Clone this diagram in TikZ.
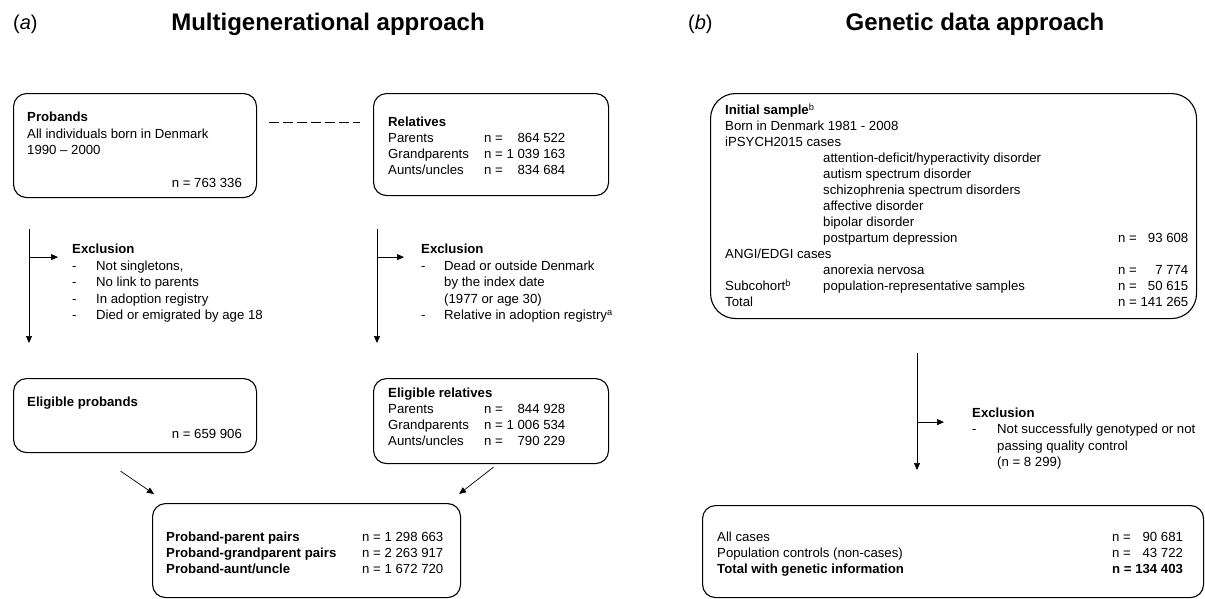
\documentclass[tikz,border=0pt]{standalone}
\usepackage{fontspec}
\setmainfont{Liberation Sans}
\usetikzlibrary{positioning,calc,arrows.meta}

\begin{document}
\begin{tikzpicture}[x=1pt, y=1pt,
    box/.style={draw, line width=1.1pt, rounded corners=13pt, anchor=north west, inner sep=0pt},
    txt/.style={anchor=north west, inner sep=0pt, font=\fontsize{13.2}{16}\selectfont},
    txtl/.style={anchor=north west, inner sep=0pt, font=\fontsize{13.2}{16.5}\selectfont},
    one/.style={inner sep=0pt, font=\fontsize{13.2}{16}\selectfont},
    arr/.style={line width=0.7pt, -{Triangle[length=7pt, width=6pt]}},
    lin/.style={line width=0.9pt}]

    \useasboundingbox (0,0) rectangle (1205,-598);

    % Titles
    \node[anchor=west, inner sep=0pt, font=\fontsize{20}{24}\selectfont] (labA) at (13,-24) {(\textit{a})};
    \node[font=\fontsize{24}{28}\selectfont\bfseries] (titleA) at (328,-24) {Multigenerational approach};
    \node[anchor=west, inner sep=0pt, font=\fontsize{20}{24}\selectfont] (labB) at (688,-24) {(\textit{b})};
    \node[font=\fontsize{24}{28}\selectfont\bfseries] (titleB) at (975,-24) {Genetic data approach};

    % (a) boxes
    \node[box, minimum width=243pt, minimum height=104pt] (probands) at (13,-93) {};
    \node[box, minimum width=235pt, minimum height=102pt] (relatives) at (373,-93) {};
    \node[box, minimum width=243pt, minimum height=74pt] (eligprob) at (13,-378) {};
    \node[box, minimum width=235pt, minimum height=85pt] (eligrel) at (373,-378) {};
    \node[box, minimum width=308pt, minimum height=94pt] (pairs) at (152,-503) {};

    % (a) texts
    \node[txtl] (probandsT) at ($(probands.north west)+(14,-16.85)$)
        {\begin{tabular}{@{}l@{}}\textbf{Probands}\\All individuals born in Denmark\\1990 – 2000\end{tabular}};
    \node[one, anchor=base east] (probandsN) at ($(probands.south east)+(-15,10.6)$) {n = 763 336};
    \node[txt] (relativesT) at ($(relatives.north west)+(15,-22.2)$)
        {\begin{tabular}{@{}p{96pt}@{}l@{ }r@{}}
        \multicolumn{3}{@{}l}{\textbf{Relatives}}\\
        Parents & n = & 864 522\\
        Grandparents & n = & 1 039 163\\
        Aunts/uncles & n = & 834 684
        \end{tabular}};
    \node[txtl] (exclA) at (72,-241.85)
        {\begin{tabular}{@{}p{24pt}@{}l@{}}
        \multicolumn{2}{@{}l}{\textbf{Exclusion}}\\
        - & Not singletons,\\
        - & No link to parents\\
        - & In adoption registry\\
        - & Died or emigrated by age 18
        \end{tabular}};
    \node[txtl] (exclB) at (421,-241.85)
        {\begin{tabular}{@{}p{23pt}@{}l@{}}
        \multicolumn{2}{@{}l}{\textbf{Exclusion}}\\
        - & Dead or outside Denmark\\
          & by the index date\\
          & (1977 or age 30)\\
        - & Relative in adoption registry\textsuperscript{a}
        \end{tabular}};
    \node[one, anchor=base west] (eligprobT) at ($(eligprob.north west)+(14,-28.4)$) {\textbf{Eligible probands}};
    \node[one, anchor=base east] (eligprobN) at ($(eligprob.south east)+(-15,14.6)$) {n = 659 906};
    \node[txt] (eligrelT) at ($(eligrel.north west)+(15,-8.2)$)
        {\begin{tabular}{@{}p{96pt}@{}l@{ }r@{}}
        \multicolumn{3}{@{}l}{\textbf{Eligible relatives}}\\
        Parents & n = & 844 928\\
        Grandparents & n = & 1 006 534\\
        Aunts/uncles & n = & 790 229
        \end{tabular}};
    \node[txt] (pairsT) at ($(pairs.north west)+(14,-27.2)$)
        {\begin{tabular}{@{}p{196pt}@{}l@{ }r@{}}
        \textbf{Proband-parent pairs} & n = & 1 298 663\\
        \textbf{Proband-grandparent pairs} & n = & 2 263 917\\
        \textbf{Proband-aunt/uncle} & n = & 1 672 720
        \end{tabular}};

    % (a) connectors
    \coordinate (dashS) at ($(probands.north east)+(12,-29)$);
    \coordinate (dashE) at ($(relatives.north west)+(-13,-29)$);
    \draw[lin, dash pattern=on 10pt off 4pt] (dashS) -- (dashE);

    \coordinate (vAs) at ($(probands.south west)+(16,-31)$);
    \coordinate (vAe) at ($(eligprob.north west)+(16,35)$);
    \coordinate (brA) at ($(vAs)+(0,-28)$);
    \draw[arr] (vAs) -- (vAe);
    \draw[arr] (brA) -- ++(29,0);

    \coordinate (vBs) at ($(relatives.south west)+(4,-33)$);
    \coordinate (vBe) at ($(eligrel.north west)+(4,35)$);
    \coordinate (brB) at ($(vBs)+(0,-28)$);
    \draw[arr] (vBs) -- (vBe);
    \draw[arr] (brB) -- ++(27,0);

    \coordinate (dA1) at ($(eligprob.south)+(-14.5,-18)$);
    \coordinate (dA2) at ($(pairs.north west)+(2,9)$);
    \draw[arr] (dA1) -- (dA2);
    \coordinate (dB1) at ($(eligrel.south)+(2.5,-3)$);
    \coordinate (dB2) at ($(pairs.north east)+(-2,9)$);
    \draw[arr] (dB1) -- (dB2);

    % (b) boxes
    \node[box, rounded corners=25pt, minimum width=486pt, minimum height=225pt] (initial) at (710,-93) {};
    \node[box, minimum width=501pt, minimum height=92pt] (final) at (702,-505) {};

    % (b) texts
    \node[txt] (initialT) at ($(initial.north west)+(15,-10.2)$)
        {\begin{tabular}{@{}p{98pt}@{}p{295pt}@{}l@{ }r@{}}
        \multicolumn{4}{@{}l}{\textbf{Initial sample}\textsuperscript{b}}\\
        \multicolumn{4}{@{}l}{Born in Denmark 1981 - 2008}\\
        \multicolumn{4}{@{}l}{iPSYCH2015 cases}\\
        & attention-deficit/hyperactivity disorder & &\\
        & autism spectrum disorder & &\\
        & schizophrenia spectrum disorders & &\\
        & affective disorder & &\\
        & bipolar disorder & &\\
        & postpartum depression & n = & 93 608\\
        \multicolumn{4}{@{}l}{ANGI/EDGI cases}\\
        & anorexia nervosa & n = & 7 774\\
        Subcohort\textsuperscript{b} & population-representative samples & n = & 50 615\\
        Total & & n = & 141 265
        \end{tabular}};
    \node[txt, font=\fontsize{13.2}{16.3}\selectfont] (exclC) at (972,-406)
        {\begin{tabular}{@{}p{25pt}@{}l@{}}
        \multicolumn{2}{@{}l}{\textbf{Exclusion}}\\
        - & Not successfully genotyped or not\\
          & passing quality control\\
          & (n = 8 299)
        \end{tabular}};
    \node[txt] (finalT) at ($(final.north west)+(15,-25.2)$)
        {\begin{tabular}{@{}p{395pt}@{}l@{ }r@{}}
        All cases & n = & 90 681\\
        Population controls (non-cases) & n = & 43 722\\
        \textbf{Total with genetic information} & \textbf{n =} & \textbf{134 403}
        \end{tabular}};

    % (b) connectors
    \coordinate (vCs) at ($(initial.south west)+(207,-34)$);
    \coordinate (vCe) at ($(final.north west)+(215,35)$);
    \coordinate (brC) at ($(vCs)+(0,-69)$);
    \draw[arr] (vCs) -- (vCe);
    \draw[arr] (brC) -- ++(27,0);
\end{tikzpicture}
\end{document}
